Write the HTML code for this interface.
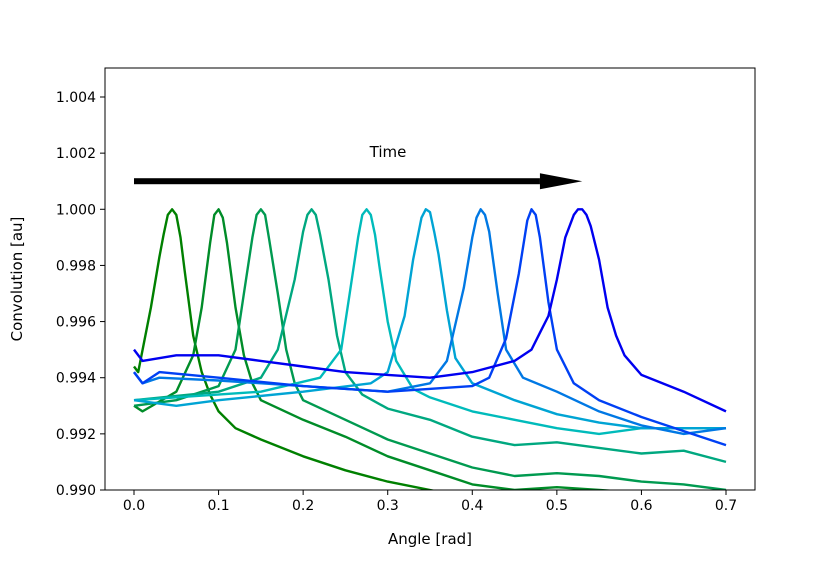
<!DOCTYPE html>
<html><head><meta charset="utf-8"><style>
body{margin:0;background:#fff;}
svg text{font-family:"DejaVu Sans","Liberation Sans",sans-serif;fill:#000;}
</style></head><body>
<svg id="c" width="840" height="560" xmlns="http://www.w3.org/2000/svg"></svg>
<script>
const xTicks=[0.0,0.1,0.2,0.3,0.4,0.5,0.6,0.7];
const xTickLabels=["0.0","0.1","0.2","0.3","0.4","0.5","0.6","0.7"];
const yTicks=[0.990,0.992,0.994,0.996,0.998,1.000,1.002,1.004];
const yTickLabels=["0.990","0.992","0.994","0.996","0.998","1.000","1.002","1.004"];
const colors=["#008000","#008c28","#009a50","#00a880","#00bbbb","#00a4d4","#0078e4","#0040f4","#0000f0"];
const c1x=[0,0.005,0.02,0.03,0.035,0.04,0.045,0.05,0.055,0.06,0.07,0.08,0.09,0.1,0.12,0.15,0.2,0.25,0.3,0.35,0.4,0.45,0.5,0.55,0.6,0.65,0.7];
const c1y=[0.9944,0.9942,0.9965,0.9983,0.9991,0.9998,1.0,0.9998,0.9990,0.9978,0.9955,0.9942,0.9934,0.9928,0.9922,0.9918,0.9912,0.9907,0.9903,0.9900,0.9897,0.9895,0.9894,0.9894,0.9895,0.9897,0.9899];
const c2x=[0,0.01,0.05,0.07,0.08,0.09,0.095,0.1,0.105,0.11,0.12,0.13,0.14,0.15,0.2,0.25,0.3,0.35,0.4,0.45,0.5,0.55,0.6,0.7];
const c2y=[0.9930,0.9928,0.9935,0.9948,0.9965,0.9988,0.9998,1.0,0.9997,0.9988,0.9965,0.9948,0.9938,0.9932,0.9925,0.9919,0.9912,0.9907,0.9902,0.9900,0.9901,0.9900,0.9899,0.9896];
const c3x=[0,0.05,0.1,0.12,0.13,0.14,0.145,0.15,0.155,0.16,0.17,0.18,0.19,0.2,0.25,0.3,0.35,0.4,0.45,0.5,0.55,0.6,0.65,0.7];
const c3y=[0.9930,0.9932,0.9937,0.9950,0.9970,0.9990,0.9998,1.0,0.9998,0.9989,0.9970,0.9950,0.9938,0.9932,0.9925,0.9918,0.9913,0.9908,0.9905,0.9906,0.9905,0.9903,0.9902,0.9900];
const c4x=[0,0.1,0.15,0.17,0.19,0.2,0.205,0.21,0.215,0.22,0.23,0.24,0.25,0.27,0.3,0.35,0.4,0.45,0.5,0.55,0.6,0.65,0.7];
const c4y=[0.9932,0.9935,0.9940,0.9950,0.9975,0.9992,0.9998,1.0,0.9998,0.9991,0.9975,0.9955,0.9942,0.9934,0.9929,0.9925,0.9919,0.9916,0.9917,0.9915,0.9913,0.9914,0.9910];
const c5x=[0,0.15,0.22,0.245,0.255,0.265,0.27,0.275,0.28,0.285,0.29,0.3,0.31,0.33,0.35,0.4,0.45,0.5,0.55,0.6,0.65,0.7];
const c5y=[0.9932,0.9935,0.9940,0.9950,0.9970,0.9990,0.9998,1.0,0.9998,0.9991,0.9980,0.9960,0.9946,0.9936,0.9933,0.9928,0.9925,0.9922,0.9920,0.9922,0.9922,0.9922];
const c6x=[0,0.05,0.1,0.2,0.28,0.3,0.32,0.33,0.34,0.345,0.35,0.355,0.36,0.37,0.38,0.4,0.45,0.5,0.55,0.6,0.65,0.7];
const c6y=[0.9932,0.9930,0.9932,0.9935,0.9938,0.9942,0.9962,0.9982,0.9997,1.0,0.9999,0.9992,0.9984,0.9964,0.9947,0.9938,0.9932,0.9927,0.9924,0.9922,0.9922,0.9922];
const c7x=[0,0.01,0.03,0.1,0.2,0.3,0.35,0.37,0.39,0.4,0.405,0.41,0.415,0.42,0.43,0.44,0.46,0.5,0.55,0.6,0.65,0.7];
const c7y=[0.9942,0.9938,0.9940,0.9939,0.9937,0.9935,0.9938,0.9946,0.9972,0.9990,0.9997,1.0,0.9998,0.9992,0.9970,0.9950,0.9940,0.9935,0.9928,0.9923,0.9920,0.9922];
const c8x=[0,0.01,0.03,0.1,0.2,0.3,0.4,0.42,0.44,0.455,0.465,0.47,0.475,0.48,0.49,0.5,0.52,0.55,0.6,0.65,0.7];
const c8y=[0.9942,0.9938,0.9942,0.9940,0.9937,0.9935,0.9937,0.9940,0.9954,0.9977,0.9996,1.0,0.9998,0.9990,0.9967,0.9950,0.9938,0.9932,0.9926,0.9921,0.9916];
const c9x=[0,0.01,0.05,0.1,0.15,0.2,0.25,0.3,0.35,0.4,0.45,0.47,0.48,0.49,0.5,0.51,0.52,0.525,0.53,0.535,0.54,0.55,0.56,0.57,0.58,0.6,0.65,0.7];
const c9y=[0.9950,0.9946,0.9948,0.9948,0.9946,0.9944,0.9942,0.9941,0.9940,0.9942,0.9946,0.9950,0.9956,0.9962,0.9975,0.9990,0.9998,1.0,1.0,0.9998,0.9994,0.9982,0.9965,0.9955,0.9948,0.9941,0.9935,0.9928];
const seriesX=[c1x,c2x,c3x,c4x,c5x,c6x,c7x,c8x,c9x];
const seriesY=[c1y,c2y,c3y,c4y,c5y,c6y,c7y,c8y,c9y];

const L=105,R=755,T=68,B=490;
const sx=v=>134+(v-0)*(726-134)/0.7;
const sy=v=>490-(v-0.990)*(490-97)/0.014;
const svg=document.getElementById('c');
const NS="http://www.w3.org/2000/svg";
function mk(t,a,p){const e=document.createElementNS(NS,t);for(const k in a)e.setAttribute(k,a[k]);(p||svg).appendChild(e);return e;}
const defs=mk('defs',{});
const cp=mk('clipPath',{id:'clip'},defs);mk('rect',{x:L,y:T,width:R-L,height:B-T},cp);
const g=mk('g',{'clip-path':'url(#clip)'});


seriesX.forEach((xs,i)=>{
  const d=xs.map((x,j)=>(j?'L':'M')+sx(x).toFixed(1)+','+sy(seriesY[i][j]).toFixed(1)).join(' ');
  const p=mk('path',{d:d,fill:'none',stroke:colors[i],'stroke-width':2.4,'stroke-linejoin':'round'},g);
  
  
});
const fr=mk('rect',{x:L,y:T,width:R-L,height:B-T,fill:'none',stroke:'#000','stroke-width':1});


xTicks.forEach((v,i)=>{
  mk('line',{x1:sx(v),x2:sx(v),y1:B,y2:B+5,stroke:'#000'});
  const t=mk('text',{x:sx(v),y:B+20,'text-anchor':'middle','font-size':14});t.textContent=xTickLabels[i];
  
  
});
yTicks.forEach((v,i)=>{
  mk('line',{x1:L-5,x2:L,y1:sy(v),y2:sy(v),stroke:'#000'});
  const t=mk('text',{x:L-9,y:sy(v)+5,'text-anchor':'end','font-size':14});t.textContent=yTickLabels[i];
  
  
});
const xt=mk('text',{x:430,y:544,'text-anchor':'middle','font-size':15});xt.textContent='Angle [rad]';


const yt=mk('text',{x:22,y:279,'text-anchor':'middle','font-size':15,transform:'rotate(-90 22 279)'});yt.textContent='Convolution [au]';


const ag=mk('g',{});


const ay=sy(1.001);
mk('rect',{x:sx(0),y:ay-3,width:sx(0.48)-sx(0),height:6,fill:'#000'},ag);
mk('polygon',{points:`${sx(0.48)},${ay-8} ${sx(0.53)},${ay} ${sx(0.48)},${ay+8}`,fill:'#000'},ag);
const tt=mk('text',{x:388,y:157,'text-anchor':'middle','font-size':15});tt.textContent='Time';


</script>
</body></html>
